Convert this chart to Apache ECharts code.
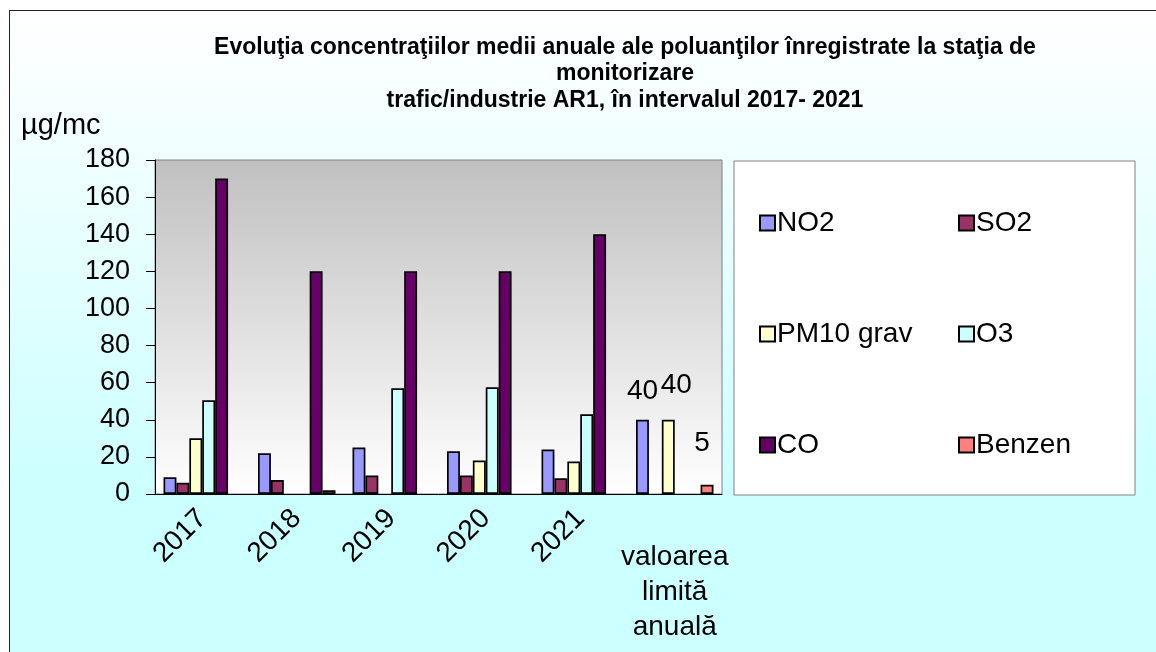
<!DOCTYPE html>
<html>
<head>
<meta charset="utf-8">
<script src="https://cdn.jsdelivr.net/npm/echarts@6/dist/echarts.min.js"></script>
<style>
  html, body { margin: 0; padding: 0; background: #fff; }
  #bg {
    position: absolute;
    left: 9px;
    top: 10px;
    width: 1147px;
    height: 642px;
    border-left: 1px solid #222;
    border-top: 1px solid #222;
    background: linear-gradient(to bottom, #ffffff 0%, #ccffff 75%);
  }
  #chart {
    position: absolute;
    left: 0;
    top: 0;
    width: 1156px;
    height: 652px;
  }
</style>
</head>
<body>
<div id="bg"></div>
<div id="chart"></div>
<script>
const categories = ['2017', '2018', '2019', '2020', '2021', 'valoarea\nlimită\nanuală']
const yTicks = { min: 0, max: 180, interval: 20 }

const no2 = [9, 22, 25, 23, 24, 40]
const so2 = [6, 7.5, 10, 10, 8.5, null]
const pm10 = [30, null, null, 18, 17.5, 40]
const o3 = [50.5, null, 57, 57.5, 43, null]
const co = [170, 120, 120, 120, 140, null]
const benzen = [null, 2, null, null, null, 5]

const font = 'Liberation Sans, Arial, sans-serif'
const limitIndex = categories.length - 1

const chart = echarts.init(document.getElementById('chart'))

// bara cu limita primeste eticheta cu valoarea
const makeData = (values, labelOffset) => values.map((v, i) => {
  if (v === null) return '-'
  if (i === limitIndex && labelOffset) {
    return {
      value: v,
      label: {
        show: true,
        position: 'top',
        offset: labelOffset,
        fontSize: 28,
        fontFamily: font,
        color: '#000'
      }
    }
  }
  return v
})

const makeSeries = (name, values, color, labelOffset) => ({
  name,
  type: 'bar',
  barGap: '0%',
  barCategoryGap: '18%',
  itemStyle: {
    color,
    borderColor: '#000',
    borderWidth: 1.7
  },
  data: makeData(values, labelOffset)
})

const legendText = { fontFamily: font, fontSize: 28, lineHeight: 30, color: '#000', padding: [0, 0, 0, -3] }

const option = {
  animation: false,
  title: [
    {
      text: 'Evoluţia concentraţiilor medii anuale ale poluanţilor înregistrate la staţia de\nmonitorizare\ntrafic/industrie AR1, în intervalul 2017- 2021',
      left: 620,
      top: 29,
      textAlign: 'center',
      textStyle: {
        fontFamily: font,
        fontSize: 23,
        fontWeight: 'bold',
        lineHeight: 26.5,
        color: '#000'
      }
    },
    {
      text: 'µg/mc',
      left: 16,
      top: 106,
      textStyle: {
        fontFamily: font,
        fontSize: 29,
        fontWeight: 'normal',
        color: '#000'
      }
    }
  ],
  graphic: [
    {
      type: 'rect',
      shape: { x: 734, y: 161, width: 401, height: 334 },
      style: { fill: '#fff', stroke: '#808080', lineWidth: 1 },
      z: -1
    }
  ],
  legend: [
    {
      orient: 'vertical',
      left: 754,
      top: 203,
      itemWidth: 15,
      itemHeight: 15,
      itemGap: 81,
      icon: 'rect',
      data: ['NO2', 'PM10 grav', 'CO'],
      textStyle: legendText
    },
    {
      orient: 'vertical',
      left: 953,
      top: 203,
      itemWidth: 15,
      itemHeight: 15,
      itemGap: 81,
      icon: 'rect',
      data: ['SO2', 'O3', 'Benzen'],
      textStyle: legendText
    }
  ],
  grid: {
    left: 155,
    right: 434,
    top: 160,
    bottom: 158,
    show: true,
    borderColor: '#808080',
    borderWidth: 1,
    backgroundColor: new echarts.graphic.LinearGradient(0, 0, 0, 1, [
      { offset: 0, color: '#c0c0c0' },
      { offset: 1, color: '#ffffff' }
    ])
  },
  xAxis: [
    {
      type: 'category',
      data: categories,
      axisLine: { lineStyle: { color: '#000', width: 1 } },
      axisTick: { length: 14, lineStyle: { color: '#000' } },
      axisLabel: {
        interval: 0,
        rotate: 45,
        margin: 20,
        fontFamily: font,
        fontSize: 28,
        color: '#000',
        formatter: (v, i) => (i === limitIndex ? '' : v)
      }
    },
    {
      type: 'category',
      data: categories,
      position: 'bottom',
      offset: 0,
      axisLine: { show: false },
      axisTick: { show: false },
      axisLabel: {
        interval: 0,
        margin: 46,
        fontFamily: font,
        fontSize: 28,
        lineHeight: 35,
        color: '#000',
        formatter: (v, i) => (i === limitIndex ? v : '')
      }
    }
  ],
  yAxis: {
    type: 'value',
    min: yTicks.min,
    max: yTicks.max,
    interval: yTicks.interval,
    axisLine: { show: true, lineStyle: { color: '#000' } },
    axisTick: { show: true, length: 9, lineStyle: { color: '#000' } },
    splitLine: { show: false },
    axisLabel: {
      margin: 25,
      fontFamily: font,
      fontSize: 27,
      color: '#000'
    }
  },
  series: [
    makeSeries('NO2', no2, '#9999ff', [0, -9]),
    makeSeries('SO2', so2, '#993366'),
    makeSeries('PM10 grav', pm10, '#ffffcc', [8, -15]),
    makeSeries('O3', o3, '#ccffff'),
    makeSeries('CO', co, '#660066'),
    makeSeries('Benzen', benzen, '#ff8080', [-5, -22])
  ]
}

chart.setOption(option)
</script>
</body>
</html>
